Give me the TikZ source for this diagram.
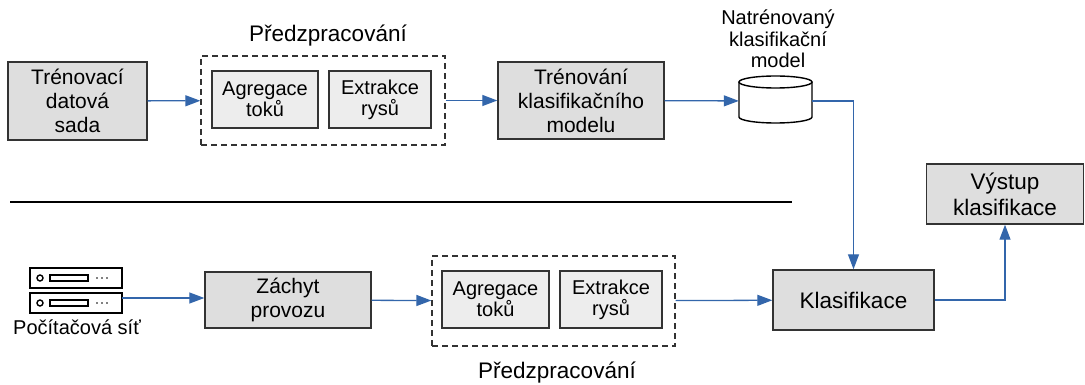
\documentclass[tikz,border=0pt]{standalone}
\usepackage{fontspec}
\setmainfont{Liberation Sans}
\usetikzlibrary{arrows.meta}
\definecolor{boxgray}{rgb}{0.87,0.87,0.87}
\definecolor{litegray}{rgb}{0.93,0.93,0.93}
\definecolor{edgegray}{rgb}{0.2,0.2,0.2}
\definecolor{flowblue}{rgb}{0.2,0.4,0.67}

\tikzset{
	box/.style={draw=edgegray, line width=1.4pt, fill=boxgray, inner sep=0pt, align=center, font=\fontsize{21}{24}\selectfont},
	inbox/.style={draw=edgegray, line width=1.4pt, fill=litegray, inner sep=0pt, align=center, font=\fontsize{20}{21}\selectfont},
	group/.style={draw=edgegray, line width=1.3pt, dash pattern=on 6pt off 4pt, inner sep=0pt},
	flow/.style={-{Triangle[length=15pt,width=11pt]}, draw=flowblue, line width=1.3pt},
	link/.style={draw=flowblue, line width=1.3pt}
}

\begin{document}
\begin{tikzpicture}[line join=miter, x=1pt, y=-1pt]
	\useasboundingbox (0,0) rectangle (1085,385);

	% trenovani
	\node [box, minimum width=139pt, minimum height=78pt] (tds) at (77.5,101) {Trénovací\\datová\\sada};
	\node [group, minimum width=244pt, minimum height=89pt] (pre1) at (323,100.5) {};
	\node [inbox, minimum width=106pt, minimum height=57pt] (agr1) at (265,99.5) {Agregace\\toků};
	\node [inbox, minimum width=102pt, minimum height=57pt] (ext1) at (380,99.5) {Extrakce\\rysů};
	\node [font=\fontsize{22.5}{24}\selectfont, anchor=base] (pre1lab) at (328,42) {Předzpracování};
	\node [box, minimum width=166pt, minimum height=77pt] (tren) at (581,100.5) {Trénování\\klasifikačního\\modelu};

	% model
	\node [minimum width=73pt, minimum height=50pt, inner sep=0pt] (model) at (775.5,101) {};
	\draw [line width=1.4pt, fill=white] (739,82) -- (739,117) arc[start angle=180, end angle=360, x radius=36.5pt, y radius=6pt] -- (812,82);
	\draw [line width=1.4pt, fill=white] (775.5,82) ellipse [x radius=36.5pt, y radius=6pt];
	\node [align=center, anchor=base, font=\fontsize{20}{21.5}\selectfont] (modlab) at (778,68) {Natrénovaný\\klasifikační\\model};

	\draw [line width=1.4pt] (10,202) -- (792,202);

	% provoz
	\foreach \y in {268,293} {
		\draw [line width=1.4pt] (30,\y) rectangle (122,\y+20);
		\draw [line width=1.4pt] (40,\y+10) circle (3pt);
		\draw [line width=1.4pt] (50,\y+7) rectangle (88,\y+13);
		\foreach \x in {97,102,107}
			\fill (\x,\y+10) circle (0.9pt);
	}
	\coordinate (srv) at (122,298);
	\node [font=\fontsize{20}{22}\selectfont] (srvlab) at (77,327) {Počítačová síť};
	\node [box, minimum width=166pt, minimum height=56pt] (zach) at (288,300) {Záchyt\\provozu};
	\node [group, minimum width=243pt, minimum height=90pt] (pre2) at (553.5,301) {};
	\node [inbox, minimum width=107pt, minimum height=57pt] (agr2) at (495.5,299.5) {Agregace\\toků};
	\node [inbox, minimum width=102pt, minimum height=57pt] (ext2) at (611,299.5) {Extrakce\\rysů};
	\node [font=\fontsize{22.5}{24}\selectfont, anchor=base] (pre2lab) at (557,378) {Předzpracování};
	\node [box, minimum width=161pt, minimum height=60pt, font=\fontsize{22.5}{25}\selectfont] (klas) at (853.5,300) {Klasifikace};
	\node [box, minimum width=157pt, minimum height=60pt, font=\fontsize{22.5}{26}\selectfont] (vyst) at (1005,194) {Výstup\\klasifikace};

	\draw [flow] (tds) -- (pre1);
	\draw [flow] (pre1) -- (tren);
	\draw [flow] (tren) -- (model);
	\draw [flow] (model.east) -| (klas.north);
	\draw [flow] (srv) -- (zach.west |- srv);
	\draw [flow] (zach) -- (pre2);
	\draw [flow] (pre2) -- (klas);
	\draw [flow] (klas.east) -| (vyst.south);
\end{tikzpicture}
\end{document}
